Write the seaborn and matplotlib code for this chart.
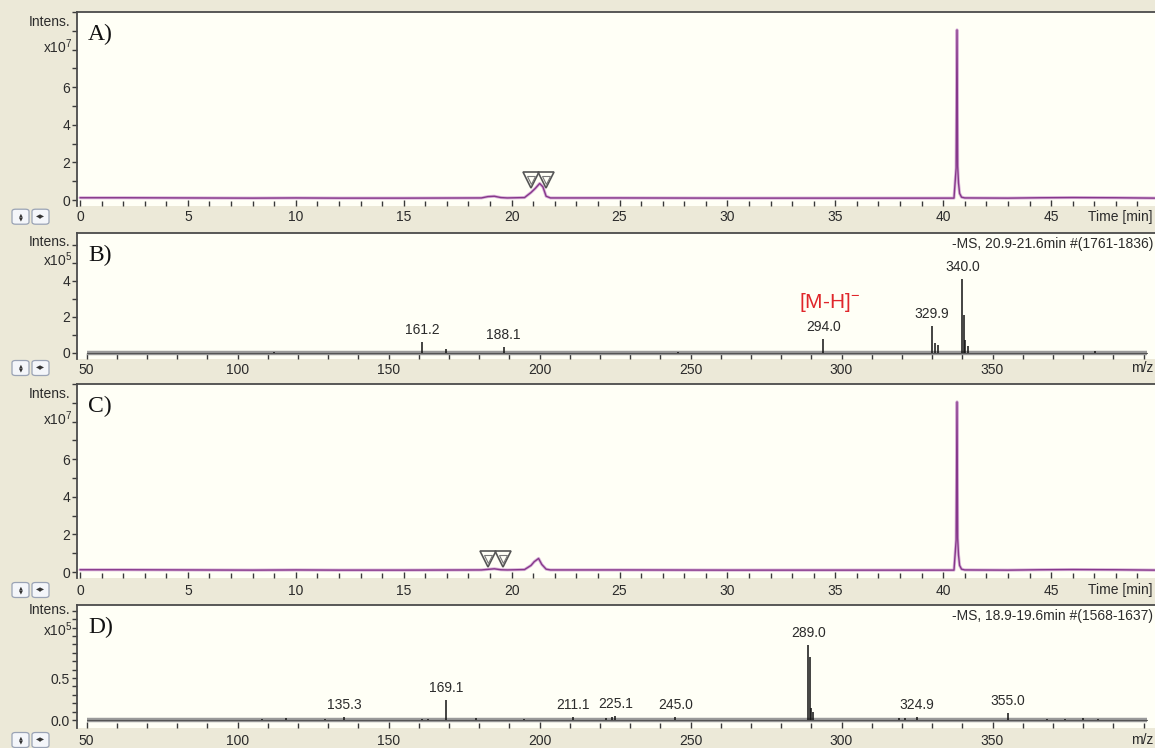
import matplotlib
matplotlib.use("Agg")
import matplotlib.pyplot as plt
from matplotlib.patches import FancyBboxPatch
from matplotlib.ticker import MultipleLocator, FixedLocator
import pandas as pd
import seaborn as sns

sns.set_style("white")
plt.rcParams["font.family"] = ["Liberation Sans", "DejaVu Sans"]
plt.rcParams["mathtext.fontset"] = "custom"
plt.rcParams["mathtext.rm"] = "Liberation Sans"
plt.rcParams["mathtext.default"] = "regular"

# ---------------- data ----------------
# Chromatogram A: retention time (min) and intensity (x10^7)
tic_a_time = [0.0, 2.0, 5.0, 8.0, 10.0, 12.0, 15.0, 18.6, 18.9, 19.2, 19.5, 19.8,
              20.6, 20.9, 21.1, 21.3, 21.45, 21.6, 21.8, 25.0, 30.0, 35.0, 40.5,
              40.6, 40.64, 40.67, 40.71, 40.76, 40.85, 41.0, 43.0, 44.5, 46.0, 48.0, 49.8]
tic_a_int = [0.12, 0.12, 0.11, 0.10, 0.11, 0.10, 0.10, 0.11, 0.18, 0.20, 0.13, 0.11,
             0.13, 0.40, 0.62, 0.88, 0.70, 0.20, 0.11, 0.11, 0.10, 0.10, 0.10,
             1.70, 9.05, 1.80, 0.90, 0.35, 0.15, 0.11, 0.10, 0.12, 0.13, 0.12, 0.10]
range_a_time = [20.9, 21.6]
range_a_mark = [1.05, 1.05]

# Chromatogram C
tic_c_time = [0.0, 2.0, 5.0, 8.0, 10.0, 12.0, 15.0, 18.6, 18.9, 19.2, 19.5, 19.8,
              20.6, 20.9, 21.05, 21.25, 21.4, 21.6, 21.8, 25.0, 30.0, 35.0, 40.5,
              40.6, 40.64, 40.67, 40.71, 40.76, 40.85, 41.0, 43.0, 44.5, 46.0, 48.0, 49.8]
tic_c_int = [0.12, 0.12, 0.11, 0.10, 0.11, 0.10, 0.10, 0.11, 0.14, 0.17, 0.12, 0.11,
             0.13, 0.35, 0.55, 0.72, 0.40, 0.15, 0.11, 0.11, 0.10, 0.10, 0.10,
             1.70, 9.05, 1.80, 0.90, 0.35, 0.15, 0.11, 0.10, 0.12, 0.13, 0.12, 0.10]
range_c_time = [18.9, 19.6]
range_c_mark = [0.7, 0.7]

# Mass spectrum B (m/z, intensity x10^5), averaged over 20.9-21.6 min
spec_b_mz = [112.0, 161.2, 169.0, 188.1, 246.0, 294.0, 329.9, 330.9, 331.9,
             340.0, 340.5, 341.0, 342.0, 384.0]
spec_b_int = [0.05, 0.60, 0.20, 0.30, 0.05, 0.75, 1.50, 0.55, 0.40,
              4.10, 2.10, 0.70, 0.35, 0.08]
labels_b = [161.2, 188.1, 294.0, 329.9, 340.0]

# Mass spectrum D (m/z, intensity x10^5), averaged over 18.9-19.6 min
spec_d_mz = [108.0, 116.0, 129.0, 135.3, 161.0, 163.0, 169.1, 179.0, 195.0, 211.1,
             222.0, 224.0, 225.1, 245.0, 289.0, 289.5, 290.0, 290.5, 319.0, 321.0,
             324.9, 355.0, 368.0, 374.0, 380.0, 385.0]
spec_d_int = [0.015, 0.02, 0.01, 0.04, 0.015, 0.015, 0.24, 0.02, 0.015, 0.035,
              0.02, 0.03, 0.05, 0.03, 0.89, 0.75, 0.14, 0.10, 0.02, 0.025,
              0.04, 0.085, 0.015, 0.015, 0.02, 0.015]
labels_d = [135.3, 169.1, 211.1, 225.1, 245.0, 289.0, 324.9, 355.0]

scan_range = [50.0, 401.0]
time_ticks = [0, 5, 10, 15, 20, 25, 30, 35, 40, 45]
mz_ticks = [50, 100, 150, 200, 250, 300, 350]

# ---------------- layout helpers ----------------
W, H = 1155, 748
fig = plt.figure(figsize=(W / 100, H / 100), dpi=100)
fig.patch.set_facecolor("#ECE9D8")

FRAME = "#4b4b4b"
TXT = "#2b2b2b"
LEFT = 77


def make_panel(top, bottom, y0_px, y_scale, x0_px, x0_val, x_scale, label_pad):
    ax = fig.add_axes([LEFT / W, 1 - bottom / H, (W - LEFT) / W, (bottom - top) / H])
    ax.set_facecolor("#FFFFF6")
    ax.set_ylim(-(bottom - y0_px) / y_scale, (y0_px - top) / y_scale)
    ax.set_xlim(x0_val - (x0_px - LEFT) / x_scale, x0_val + (W - x0_px) / x_scale)
    for s in ("right", "bottom"):
        ax.spines[s].set_visible(False)
    for s in ("top", "left"):
        ax.spines[s].set_color(FRAME)
        ax.spines[s].set_linewidth(1.3)
    ax.tick_params(axis="x", which="both", direction="in", bottom=True, top=False,
                   color="#3a3a3a", labelcolor=TXT, labelsize=10, pad=label_pad)
    ax.tick_params(axis="x", which="major", length=4, width=1)
    ax.tick_params(axis="x", which="minor", length=3.5, width=1)
    ax.tick_params(axis="y", which="both", direction="out", left=True,
                   color="#3a3a3a", labelcolor=TXT, labelsize=10, pad=1.5)
    ax.tick_params(axis="y", which="major", length=3.5, width=1)
    ax.tick_params(axis="y", which="minor", length=3.5, width=1)
    return ax


def exponent_label(ax, yval, text, intens_px, lift=3):
    ax.annotate(text, xy=(0, yval), xycoords=("axes fraction", "data"),
                xytext=(-4.5, lift), textcoords="offset pixels",
                ha="right", va="center", fontsize=10, color=TXT)
    fig.text(70 / W, 1 - intens_px / H, "Intens.", ha="right", va="center",
             fontsize=10, color=TXT)


def buttons(y_px):
    for x_px, sym in ((12, "\u25b2\n\u25bc"), (32, "\u25c0\u25b6")):
        box = FancyBboxPatch((x_px / W, 1 - (y_px + 7.5) / H), 17 / W, 15 / H,
                             boxstyle="round,pad=0,rounding_size=0.003",
                             transform=fig.transFigure, facecolor="#F4F6FA",
                             edgecolor="#9aa3b5", linewidth=0.9)
        fig.patches.append(box)
        fig.text((x_px + 8.5) / W, 1 - y_px / H, sym, ha="center", va="center",
                 fontsize=3.6 if "\n" in sym else 4.2, color="#333",
                 family="DejaVu Sans", linespacing=0.9)


def panel_letter(ax, letter):
    ax.text(11 / (W - LEFT), 1 - 12 / ax.bbox.height, letter, transform=ax.transAxes,
            ha="left", va="top", fontsize=17, family="Liberation Serif", color="#111")


def chromatogram(ax, t, y, rt, rmark, letter, intens_px, row_px):
    df = pd.DataFrame({"time": t, "intensity": y})
    sns.lineplot(data=df, x="time", y="intensity", ax=ax, color="#D9B2D9",
                 linewidth=2.2, estimator=None, sort=False)
    sns.lineplot(data=df, x="time", y="intensity", ax=ax, color="#86388A",
                 linewidth=1.0, estimator=None, sort=False)
    ax.plot(rt, rmark, linestyle="none", marker="v", markersize=12,
            markerfacecolor="none", markeredgecolor="#555555", markeredgewidth=1.2)
    ax.plot(rt, rmark, linestyle="none", marker="v", markersize=5.5,
            markerfacecolor="none", markeredgecolor="#777777", markeredgewidth=0.8)
    ax.xaxis.set_major_locator(FixedLocator(time_ticks))
    ax.xaxis.set_minor_locator(MultipleLocator(1))
    ax.set_xticklabels([str(v) for v in time_ticks])
    ax.yaxis.set_major_locator(FixedLocator([0, 2, 4, 6, 8]))
    ax.yaxis.set_minor_locator(MultipleLocator(1))
    ax.set_yticklabels(["0", "2", "4", "6", ""])
    ax.set_xlabel("")
    ax.set_ylabel("")
    exponent_label(ax, 8, "x10$^{7}$", intens_px)
    panel_letter(ax, letter)
    fig.text(1153 / W, 1 - row_px / H, "Time [min]", ha="right", va="center",
             fontsize=10, color=TXT)
    buttons(row_px)


def spectrum(ax, mz, inten, labels, header, letter, intens_px, row_px, yticks, ylabels,
             exp_val, lift=3):
    ax.plot(scan_range, [0.0, 0.0], color="#9a9a9a", linewidth=3.2,
            solid_capstyle="butt", zorder=2)
    ax.plot(scan_range, [0.0, 0.0], color="#555555", linewidth=0.8, zorder=2.1)
    ax.vlines(mz, 0, inten, color="#111111", linewidth=1.1, zorder=3)
    for m, v in zip(mz, inten):
        if m in labels:
            ax.annotate(f"{m:.1f}", xy=(m, v), xytext=(0, 5), textcoords="offset pixels",
                        ha="center", va="bottom", fontsize=10, color=TXT)
    ax.xaxis.set_major_locator(FixedLocator(mz_ticks))
    ax.xaxis.set_minor_locator(MultipleLocator(10))
    ax.set_xticklabels([str(v) for v in mz_ticks])
    ax.yaxis.set_major_locator(FixedLocator(yticks))
    ax.set_yticklabels(ylabels)
    exponent_label(ax, exp_val, "x10$^{5}$", intens_px, lift)
    ax.text(1 - 2 / (W - LEFT), 1 - 4 / ax.bbox.height, header, transform=ax.transAxes,
            ha="right", va="top", fontsize=10, color=TXT)
    panel_letter(ax, letter)
    fig.text(1153 / W, 1 - row_px / H, "m/z", ha="right", va="center",
             fontsize=10, color=TXT)
    buttons(row_px)


# ---------------- panels ----------------
ax_a = make_panel(11.7, 206, 200, 18.8, 80, 0.0, 21.58, 3)
chromatogram(ax_a, tic_a_time, tic_a_int, range_a_time, range_a_mark, "A)", 22, 216.7)

ax_b = make_panel(232.7, 359, 352.5, 18.0, 86.5, 50.0, 3.02, 3)
spectrum(ax_b, spec_b_mz, spec_b_int, labels_b, "-MS, 20.9-21.6min #(1761-1836)", "B)",
         242, 368, [0, 2, 4, 5], ["0", "2", "4", ""], 5)
ax_b.yaxis.set_minor_locator(MultipleLocator(1))
ax_b.text(296.0, 2.75, "[M-H]$^{-}$", ha="center", va="center", fontsize=15,
          color="#E0262B")

ax_c = make_panel(384, 578, 572, 18.8, 80, 0.0, 21.58, 4)
chromatogram(ax_c, tic_c_time, tic_c_int, range_c_time, range_c_mark, "C)", 394, 590)

ax_d = make_panel(605, 728, 720, 84.0, 86.5, 50.0, 3.02, 4.5)
spectrum(ax_d, spec_d_mz, spec_d_int, labels_d, "-MS, 18.9-19.6min #(1568-1637)", "D)",
         610, 740, [0.0, 0.5, 1.0], ["0.0", "0.5", ""], 1.0, lift=6)
ax_d.yaxis.set_minor_locator(MultipleLocator(0.1))

fig.savefig("out.png", dpi=100, facecolor=fig.get_facecolor())
